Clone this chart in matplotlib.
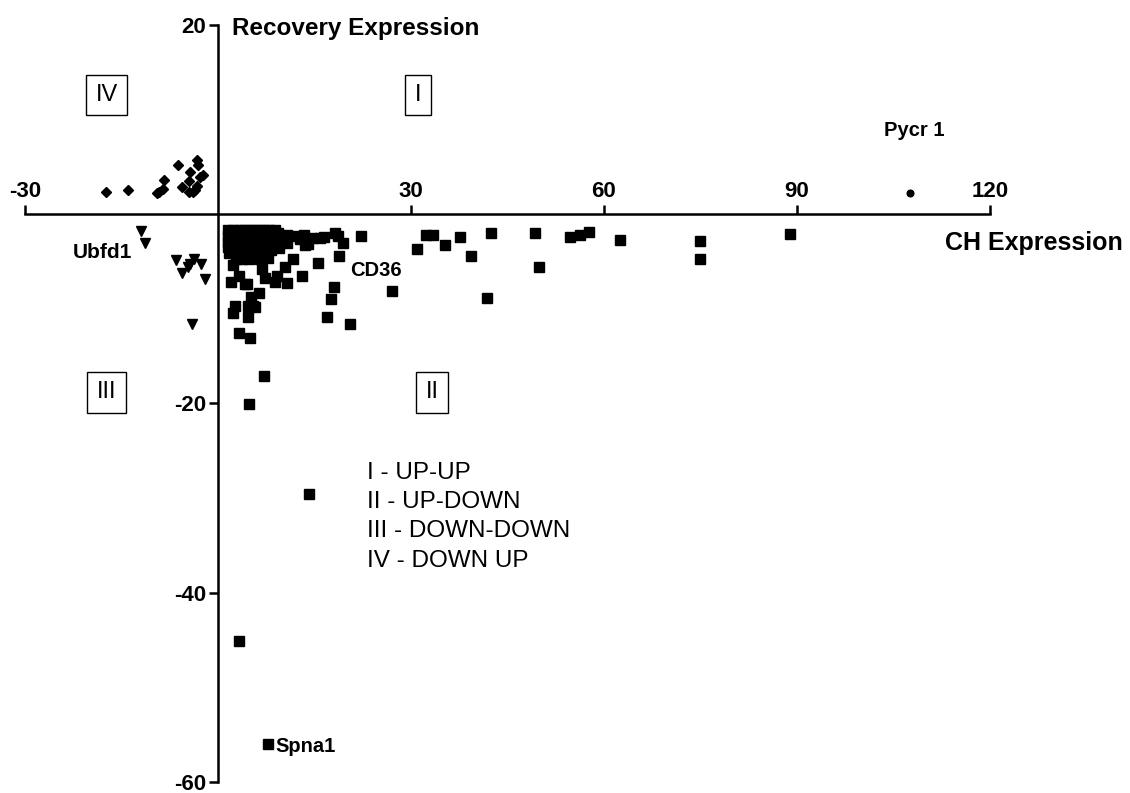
import matplotlib
matplotlib.use('Agg')
from matplotlib import pyplot as plt

plt.rcParams['font.family'] = ['Liberation Sans', 'DejaVu Sans']
plt.rcParams['axes.unicode_minus'] = False

# quadrant II (UP-DOWN), squares
up_down_x = [3.3, 7.8, 14.1, 4.8, 7.2, 3.2, 5.0,
             18.0, 17.5, 17.0, 20.5, 27.1,
             2.6, 2.4, 4.7, 5.5, 4.7, 5.8, 6.3, 5.2, 4.2, 2.1, 8.9, 10.7,
             3.2, 4.5, 7.3, 6.8, 2.4, 9.1, 10.4, 11.7, 13.1, 15.6, 18.8, 13.5,
             22.3, 31.0, 32.4, 33.4, 35.3, 37.6, 39.3, 41.8, 42.5, 49.2, 49.9,
             54.7, 56.3, 57.7, 62.5, 75.0, 75.0, 88.9,
             9.4, 10.7, 12.0, 13.3, 14.6, 15.9, 18.2, 18.7, 12.7, 16.5, 19.5, 14.0,
             1.6, 2.4, 3.2, 4.0, 4.8, 5.6, 6.4, 7.2, 8.0, 8.8,
             1.6, 2.4, 3.2, 4.0, 4.8, 5.6, 6.4, 7.2, 8.0, 9.0, 10.0,
             1.6, 2.5, 3.4, 4.3, 5.2, 6.1, 7.0, 8.0, 9.2,
             1.6, 2.5, 3.4, 4.3, 5.2, 6.1, 7.0,
             1.7, 2.6, 3.5, 4.4, 5.3, 6.2,
             2.8, 3.8, 4.8, 6.6,
             8.2, 9.5, 7.8, 10.8]
up_down_y = [-45.1, -56.0, -29.6, -20.1, -17.1, -12.6, -13.1,
             -7.7, -9.0, -10.9, -11.6, -8.1,
             -9.7, -10.4, -9.7, -9.7, -10.9, -9.8, -8.3, -8.8, -7.4, -7.2, -7.2, -7.3,
             -6.5, -7.4, -6.7, -5.8, -5.4, -6.5, -5.6, -4.7, -6.5, -5.2, -4.4, -3.3,
             -2.3, -3.7, -2.2, -2.2, -3.3, -2.4, -4.4, -8.9, -2.0, -2.0, -5.6,
             -2.4, -2.2, -1.9, -2.7, -2.8, -4.7, -2.1,
             -2.0, -2.2, -2.3, -2.2, -2.5, -2.5, -2.0, -2.3, -2.6, -2.4, -3.0, -3.1,
             -1.7, -1.7, -1.7, -1.7, -1.7, -1.7, -1.7, -1.7, -1.7, -1.7,
             -2.3, -2.3, -2.3, -2.3, -2.3, -2.3, -2.3, -2.3, -2.3, -2.3, -2.3,
             -2.9, -2.9, -2.9, -2.9, -2.9, -2.9, -2.9, -2.9, -2.9,
             -3.5, -3.5, -3.5, -3.5, -3.5, -3.5, -3.5,
             -4.1, -4.1, -4.1, -4.1, -4.1, -4.1,
             -4.7, -4.7, -4.7, -4.7,
             -3.8, -3.6, -4.6, -3.0]

# quadrant IV (DOWN-UP), diamonds
down_up_x = [-17.4, -14.0, -9.5, -9.1, -8.5, -8.4, -6.2, -5.6, -4.5,
             -4.4, -4.5, -3.6, -3.2, -3.1, -2.8, -2.4, -3.3, -3.9]
down_up_y = [2.4, 2.6, 2.2, 2.4, 2.7, 3.6, 5.2, 2.9, 3.5,
             4.5, 2.3, 2.6, 5.7, 5.2, 3.9, 4.1, 3.0, 2.4]

# quadrant III (DOWN-DOWN), triangles
down_down_x = [-12.0, -11.3, -6.5, -5.6, -4.6, -4.4, -3.8, -2.7, -2.0, -4.1]
down_down_y = [-1.8, -3.0, -4.8, -6.2, -5.6, -5.3, -4.7, -5.3, -6.8, -11.6]

# quadrant I (UP-UP), circle
up_up_x = [107.6]
up_up_y = [2.2]

xticks = [-30, 30, 60, 90, 120]
yticks = [20, -20, -40, -60]

legend_lines = ['I - UP-UP', 'II - UP-DOWN', 'III - DOWN-DOWN', 'IV - DOWN UP']

fig = plt.figure(figsize=(11.3, 7.93), dpi=100)
ax = fig.add_axes([0.0221, 0.0139, 0.8540, 0.9546])

ax.plot(up_down_x, up_down_y, 's', color='black', markersize=6.5, clip_on=False)
ax.plot(down_up_x, down_up_y, 'D', color='black', markersize=5.3, clip_on=False)
ax.plot(down_down_x, down_down_y, 'v', color='black', markersize=7, clip_on=False)
ax.plot(up_up_x, up_up_y, 'o', color='black', markersize=4.8, clip_on=False)

ax.set_xlim(-30, 120)
ax.set_ylim(-60, 20)

# axes crossing at the origin
ax.spines['right'].set_visible(False)
ax.spines['bottom'].set_visible(False)
ax.spines['top'].set_position(('data', 0))
ax.spines['left'].set_position(('data', 0))
ax.spines['top'].set_linewidth(1.8)
ax.spines['left'].set_linewidth(1.8)
ax.xaxis.set_ticks_position('top')
ax.yaxis.set_ticks_position('left')
ax.set_xticks(xticks)
ax.set_yticks(yticks)
ax.tick_params(axis='both', width=1.8, length=6.5, labelsize=16, pad=2)
for lab in ax.get_xticklabels() + ax.get_yticklabels():
    lab.set_fontweight('bold')

ax.text(2.2, 19.6, 'Recovery Expression', fontsize=17.5, fontweight='bold', va='center', ha='left')
ax.text(113, -3.0, 'CH Expression', fontsize=18, fontweight='bold', va='center', ha='left', clip_on=False)

# gene labels
ax.text(108.3, 8.9, 'Pycr 1', fontsize=14.5, fontweight='bold', ha='center', va='center')
ax.text(-18.0, -4.0, 'Ubfd1', fontsize=15, fontweight='bold', ha='center', va='center')
ax.text(24.6, -5.9, 'CD36', fontsize=14.5, fontweight='bold', ha='center', va='center')
ax.text(9.0, -56.2, 'Spna1', fontsize=14.5, fontweight='bold', ha='left', va='center')

# quadrant boxes
box = dict(boxstyle='square,pad=0.4', facecolor='white', edgecolor='black', linewidth=1)
ax.text(-17.3, 12.6, 'IV', fontsize=17, ha='center', va='center', bbox=box)
ax.text(31.1, 12.6, 'I', fontsize=17, ha='center', va='center', bbox=box)
ax.text(-17.3, -18.8, 'III', fontsize=17, ha='center', va='center', bbox=box)
ax.text(33.3, -18.8, 'II', fontsize=17, ha='center', va='center', bbox=box)

for i, line in enumerate(legend_lines):
    ax.text(23.2, -27.3 - 3.1 * i, line, fontsize=17.5, ha='left', va='center')

fig.savefig('out.png', dpi=100)
